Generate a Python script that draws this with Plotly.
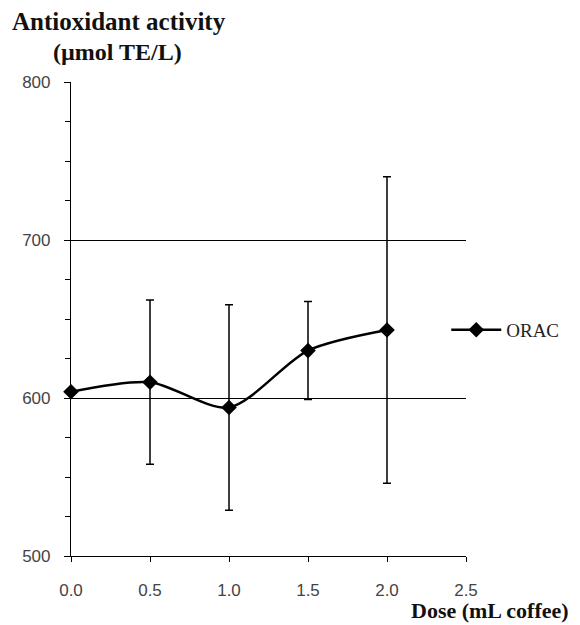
import plotly.graph_objects as go

dose = [0.0, 0.5, 1.0, 1.5, 2.0]
orac = [604, 610, 594, 630, 643]
orac_err = [0, 52, 65, 31, 97]
x_ticks = [0.0, 0.5, 1.0, 1.5, 2.0, 2.5]
y_ticks = [500, 600, 700, 800]

SERIF = "Times New Roman, Liberation Serif, DejaVu Serif, serif"

fig = go.Figure()
fig.add_trace(go.Scatter(
    x=dose, y=orac, name="ORAC", mode="lines+markers",
    line=dict(color="black", width=2.5, shape="spline", smoothing=0.8),
    marker=dict(symbol="diamond", size=12, color="black"),
    error_y=dict(type="data", array=orac_err, visible=True, color="black", thickness=1.5, width=4),
    cliponaxis=False,
))

fig.update_layout(
    width=580, height=625,
    margin=dict(l=71, r=114, t=82, b=69),
    paper_bgcolor="white", plot_bgcolor="white",
    showlegend=True,
    legend=dict(x=0.95, y=0.477, xanchor="left", yanchor="middle",
                font=dict(family=SERIF, size=19, color="#222"),
                itemwidth=50, bgcolor="rgba(0,0,0,0)"),
    xaxis=dict(range=[0, 2.5], tickvals=x_ticks, tickformat=".1f",
               showgrid=False, zeroline=False, showline=True, linecolor="black", linewidth=1.2,
               ticks="outside", ticklen=5, tickcolor="black", ticklabelstandoff=13,
               tickfont=dict(family="Liberation Sans", size=17, color="#444")),
    yaxis=dict(range=[500, 800], tickvals=y_ticks,
               showgrid=True, gridcolor="black", gridwidth=1.2, zeroline=False,
               showline=True, linecolor="black", linewidth=1.2,
               ticks="outside", ticklen=6, tickcolor="black", ticklabelstandoff=10,
               minor=dict(dtick=25, ticks="outside", ticklen=5, tickcolor="black", showgrid=False),
               tickfont=dict(family="Liberation Sans", size=17, color="#444")),
    annotations=[
        dict(text="Antioxidant activity", xref="paper", yref="paper", x=0.1215, y=1.1266,
             xanchor="center", yanchor="middle", showarrow=False,
             font=dict(family=SERIF, size=25, color="#111", weight="bold")),
        dict(text="(µmol TE/L)", xref="paper", yref="paper", x=0.117, y=1.0633,
             xanchor="center", yanchor="middle", showarrow=False,
             font=dict(family=SERIF, size=24, color="#111", weight="bold")),
        dict(text="Dose (mL coffee)", xref="paper", yref="paper", x=1.0,
             y=-0.114, xanchor="left", yanchor="middle", showarrow=False, xshift=-57,
             font=dict(family=SERIF, size=22, color="#111", weight="bold")),
    ],
)

fig.write_html("out.html", config={"displayModeBar": False},
               post_script="document.body.style.margin='0';")
